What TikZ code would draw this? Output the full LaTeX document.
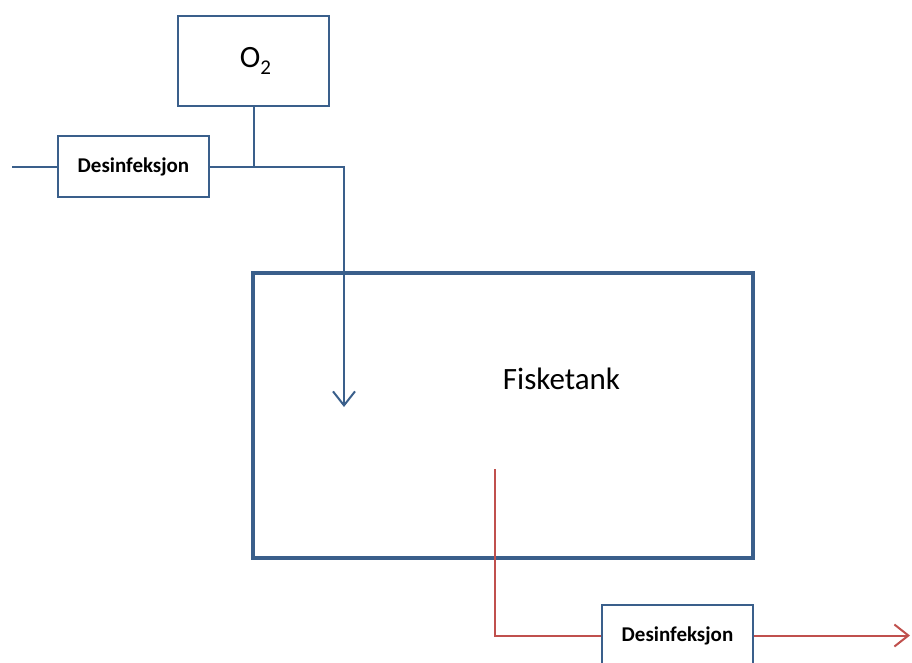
\documentclass[tikz,border=0pt]{standalone}
\usepackage{fontspec}
\setmainfont{Carlito}
\usetikzlibrary{arrows.meta}
\definecolor{bl}{HTML}{3A5F8B}
\definecolor{rd}{HTML}{C0504D}
\begin{document}
\begin{tikzpicture}[x=1pt,y=-1pt,
  box/.style={draw=bl, line width=1.2pt, fill=white, inner sep=0pt, minimum width=151pt},
  dbox/.style={box, minimum height=61pt, font=\fontsize{21}{24}\selectfont\bfseries},
  pipe/.style={draw=bl, line width=2pt},
  rpipe/.style={draw=rd, line width=2pt},
  tip/.style={-{Straight Barb[length=14pt,width=22pt,line width=2pt]}}]
\clip (0,0) rectangle (912,662);
\node[box, minimum height=90pt, font=\fontsize{31}{34}\selectfont] (o2) at (253.5,61) {\hspace{4pt}O\raisebox{-7pt}{\fontsize{21}{23}\selectfont 2}};
\node[dbox] (d1) at (133.5,166.5) {Desinfeksjon};
\node[draw=bl, line width=4.5pt, minimum width=500pt, minimum height=285pt, inner sep=0pt] (tank) at (503,415.5) {};
\node[font=\fontsize{31}{36}\selectfont] (tlabel) at (561.5,379) {Fisketank};
\node[dbox] (d2) at (677.5,635.5) {Desinfeksjon};
\coordinate (inL) at (12,166.5);
\coordinate (aend) at (344,407);
\coordinate (rs) at (495,469);
\coordinate (rend) at (910,635.5);
\draw[pipe] (inL) -- (d1.west);
\draw[pipe,tip] (d1.east) -| (aend);
\draw[pipe] (o2.south) -- (o2.south |- d1.east);
\draw[rpipe] (rs) |- (d2.west);
\draw[rpipe,tip] (d2.east) -- (rend);
\end{tikzpicture}
\end{document}
